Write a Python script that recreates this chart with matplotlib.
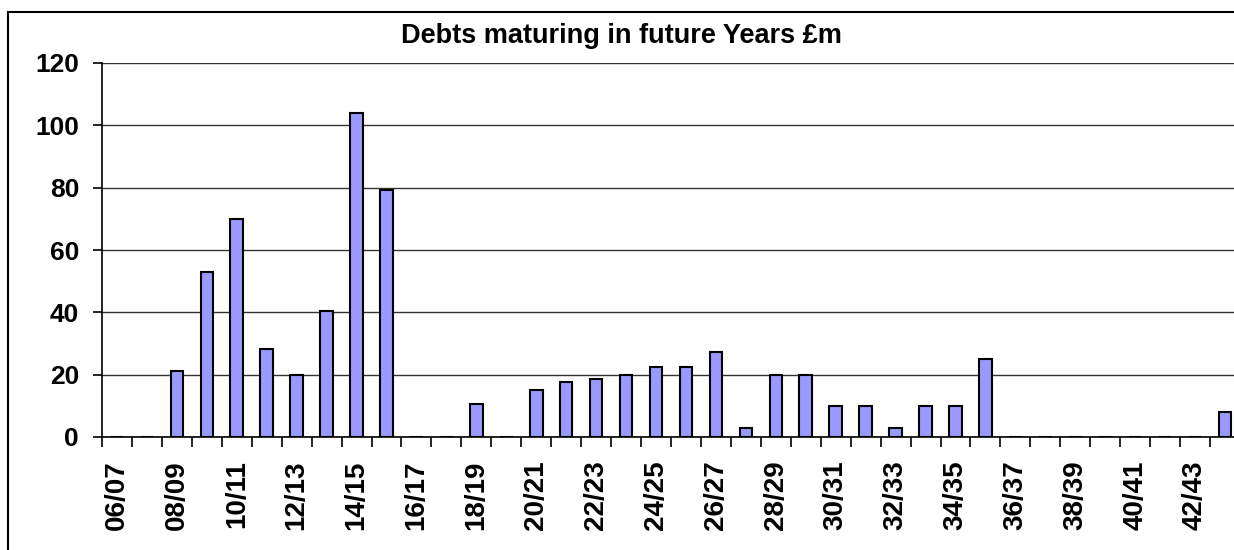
import matplotlib
matplotlib.use("Agg")
import matplotlib.pyplot as plt
from matplotlib.patches import Rectangle
import numpy as np

plt.rcParams['font.family'] = ['Liberation Sans', 'DejaVu Sans']

# financial years 06/07 .. 43/44
years = ['%02d/%02d' % (y, y + 1) for y in range(6, 44)]
values = [0, 0, 21.3, 53, 70, 28.3, 20, 40.3, 104, 79.4,
          0, 0, 10.6, 0, 15, 17.5, 18.6, 20, 22.4, 22.4,
          27.4, 3, 20, 20, 10, 10, 3, 10, 10, 25,
          0, 0, 0, 0, 0, 0, 0, 8]

fig = plt.figure(figsize=(12.34, 5.5), dpi=100)
# chart area border (Excel style), right/bottom edges fall outside the image
fig.patches.append(Rectangle((8 / 1234, -0.1), 1.2, 1 - 12 / 550 + 0.1,
                             transform=fig.transFigure, fill=False,
                             edgecolor='black', linewidth=1.5))

# plot area runs a little past the right edge of the image
ax = fig.add_axes([102 / 1234, 1 - 437 / 550, 1138 / 1234, 374 / 550])
x = np.arange(len(years))
ax.bar(x, values, width=0.42, color='#9999FF', edgecolor='black',
       linewidth=1.5, zorder=3)

ax.set_xlim(-0.5, len(years) - 0.5)
ax.set_ylim(0, 120)
ax.set_yticks(range(0, 121, 20))
ax.grid(axis='y', color='#333333', linewidth=1, zorder=0)

# ticks between categories, labels on every second category
ax.set_xticks(np.arange(-0.5, len(years), 1))
ax.set_xticklabels([])
ax.set_xticks(x[::2], minor=True)
ax.set_xticklabels(years[::2], minor=True, rotation=90, fontsize=20,
                   fontweight='bold', va='top')
ax.tick_params(axis='x', which='minor', length=0, pad=17)
ax.tick_params(axis='x', which='major', length=7, width=1.2)
ax.tick_params(axis='y', length=6.5, width=1.2, labelsize=19, pad=10)
for lab in ax.get_yticklabels():
    lab.set_fontweight('bold')

for s in ['top', 'right']:
    ax.spines[s].set_visible(False)
ax.spines['left'].set_linewidth(1.2)
ax.spines['bottom'].set_linewidth(1.2)

fig.text(621 / 1234, 1 - 36 / 550, 'Debts maturing in future Years £m',
         ha='center', va='center', fontsize=19.5, fontweight='bold')

fig.savefig('out.png', dpi=100)
